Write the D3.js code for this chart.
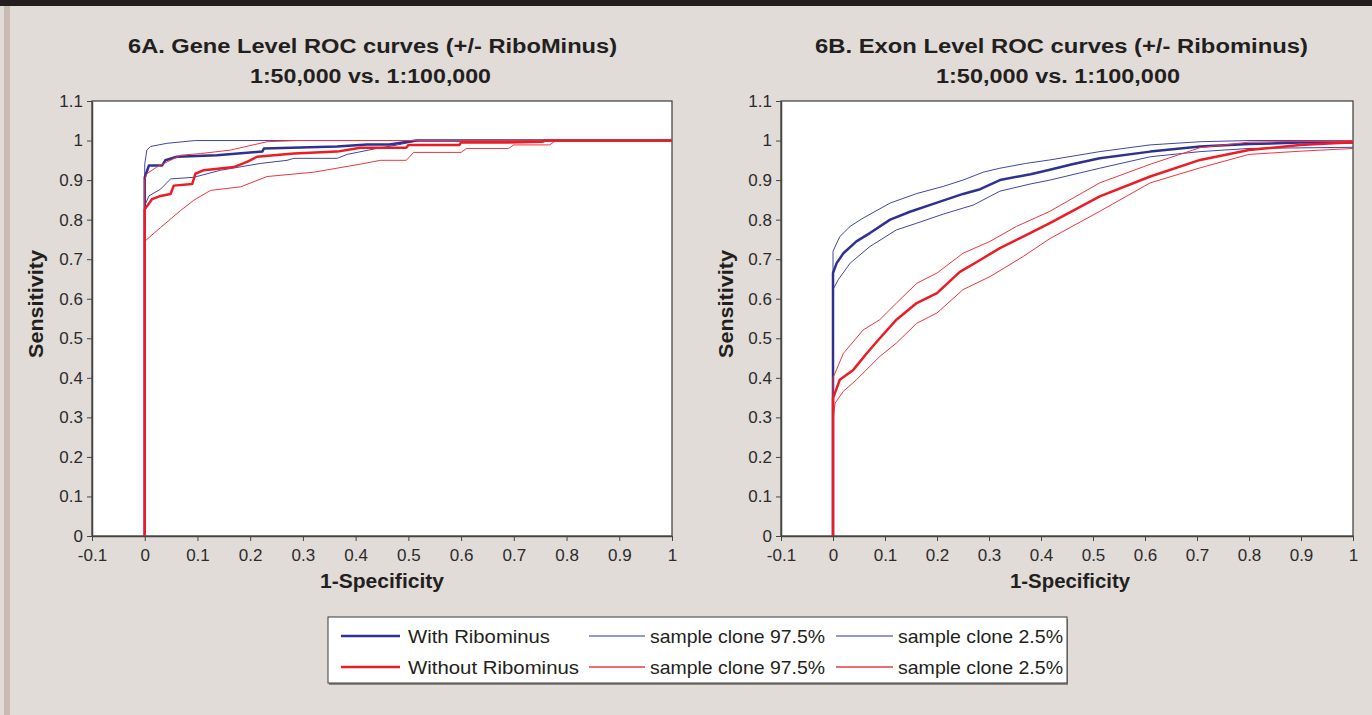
<!DOCTYPE html>
<html>
<head>
<meta charset="utf-8">
<script src="https://cdn.jsdelivr.net/npm/d3@7/dist/d3.min.js"></script>
<style>
  html, body { margin: 0; padding: 0; background: #e1dcd8; }
  svg { display: block; font-family: "Liberation Sans", Arial, sans-serif; }
</style>
</head>
<body>
<div id="chart"></div>
<script>
// tick values shared by both panels
var xTicks = [-0.1, 0, 0.1, 0.2, 0.3, 0.4, 0.5, 0.6, 0.7, 0.8, 0.9, 1];
var yTicks = [0, 0.1, 0.2, 0.3, 0.4, 0.5, 0.6, 0.7, 0.8, 0.9, 1, 1.1];

// 6A gene level curves, [1-specificity, sensitivity]
var geneBlueMain = [[0,0],[0,0.907],[0.008,0.937],[0.033,0.937],[0.039,0.95],[0.061,0.959],[0.137,0.963],[0.223,0.972],[0.226,0.98],[0.365,0.985],[0.422,0.99],[0.464,0.99],[0.515,1],[1,1]];
var geneBlueHi   = [[0,0],[0,0.94],[0.004,0.976],[0.011,0.985],[0.042,0.993],[0.096,1],[1,1]];
var geneBlueLo   = [[0,0],[0,0.835],[0.008,0.86],[0.03,0.877],[0.049,0.903],[0.093,0.907],[0.144,0.925],[0.219,0.942],[0.27,0.95],[0.283,0.955],[0.365,0.955],[0.384,0.965],[0.44,0.98],[0.48,0.989],[0.52,1],[1,1]];
var geneRedMain  = [[0,0],[0,0.826],[0.014,0.852],[0.03,0.86],[0.049,0.865],[0.055,0.886],[0.09,0.89],[0.096,0.916],[0.112,0.925],[0.169,0.933],[0.194,0.946],[0.213,0.959],[0.283,0.967],[0.365,0.972],[0.409,0.982],[0.496,0.982],[0.5,0.989],[0.597,0.989],[0.6,0.995],[0.682,0.995],[0.754,0.997],[0.76,1],[1,1]];
var geneRedHi    = [[0,0],[0,0.9],[0.004,0.916],[0.023,0.933],[0.068,0.963],[0.106,0.967],[0.163,0.976],[0.232,0.997],[0.289,1],[1,1]];
var geneRedLo    = [[0,0],[0,0.745],[0.004,0.75],[0.03,0.78],[0.068,0.823],[0.093,0.849],[0.125,0.874],[0.182,0.883],[0.232,0.909],[0.321,0.92],[0.416,0.942],[0.447,0.95],[0.496,0.95],[0.51,0.97],[0.6,0.97],[0.61,0.98],[0.69,0.98],[0.7,0.989],[0.768,0.989],[0.78,1],[1,1]];

// 6B exon level curves
var exonBlueMain = [[0,0],[0,0.665],[0.007,0.69],[0.02,0.715],[0.045,0.745],[0.071,0.766],[0.11,0.8],[0.148,0.82],[0.2,0.843],[0.25,0.865],[0.283,0.877],[0.321,0.9],[0.38,0.915],[0.417,0.926],[0.46,0.94],[0.513,0.955],[0.61,0.972],[0.706,0.985],[0.8,0.991],[0.898,0.995],[1,0.995]];
var exonBlueHi   = [[0,0],[0,0.72],[0.013,0.757],[0.033,0.783],[0.058,0.804],[0.11,0.842],[0.161,0.866],[0.212,0.884],[0.25,0.9],[0.289,0.92],[0.321,0.93],[0.37,0.942],[0.417,0.951],[0.513,0.972],[0.61,0.989],[0.706,0.997],[0.8,1],[1,1]];
var exonBlueLo   = [[0,0],[0,0.623],[0.01,0.648],[0.033,0.69],[0.071,0.732],[0.122,0.774],[0.161,0.791],[0.212,0.814],[0.27,0.837],[0.321,0.872],[0.379,0.89],[0.417,0.9],[0.513,0.93],[0.61,0.959],[0.706,0.972],[0.8,0.98],[1,0.983]];
var exonRedMain  = [[0,0],[0,0.35],[0.002,0.355],[0.013,0.395],[0.039,0.42],[0.065,0.462],[0.09,0.5],[0.122,0.547],[0.161,0.589],[0.2,0.614],[0.244,0.668],[0.283,0.698],[0.321,0.728],[0.379,0.766],[0.417,0.791],[0.513,0.859],[0.61,0.909],[0.706,0.951],[0.8,0.976],[0.898,0.989],[1,0.996]];
var exonRedHi    = [[0,0],[0,0.4],[0.004,0.412],[0.02,0.462],[0.058,0.521],[0.09,0.547],[0.122,0.589],[0.161,0.639],[0.2,0.665],[0.25,0.715],[0.302,0.745],[0.353,0.783],[0.417,0.821],[0.513,0.893],[0.61,0.94],[0.706,0.982],[0.8,0.996],[1,1]];
var exonRedLo    = [[0,0],[0,0.294],[0.004,0.336],[0.02,0.366],[0.045,0.395],[0.09,0.454],[0.122,0.488],[0.161,0.538],[0.2,0.564],[0.25,0.623],[0.302,0.656],[0.366,0.707],[0.417,0.752],[0.513,0.821],[0.61,0.893],[0.706,0.931],[0.8,0.965],[0.898,0.973],[1,0.98]];

var titlesA = ["6A. Gene Level ROC curves (+/- RiboMinus)", "1:50,000 vs. 1:100,000"];
var titlesB = ["6B. Exon Level ROC curves (+/- Ribominus)", "1:50,000 vs. 1:100,000"];
var legendLabels = ["With Ribominus", "sample clone 97.5%", "sample clone 2.5%",
                    "Without Ribominus", "sample clone 97.5%", "sample clone 2.5%"];

var w = 1372, h = 715;
var blueThick = "#2e3192", blueThin = "#3f46a3";
var redThick = "#ed1c24", redThin = "#f0353d";

var svg = d3.select("#chart").append("svg")
    .attr("width", w)
    .attr("height", h);

// background, top bar and left strip
svg.append("rect").attr("width", w).attr("height", h).attr("fill", "#e1dcd8");
svg.append("rect").attr("width", w).attr("height", 6).attr("fill", "#221e1f");
svg.append("rect").attr("x", 4).attr("y", 6).attr("width", 6).attr("height", h - 6).attr("fill", "#c9bab4");

// stretch a text to a measured width
function fit(sel, width) {
  sel.attr("textLength", width).attr("lengthAdjust", "spacingAndGlyphs");
}

var fmt = function(d) { return String(+d.toFixed(1)); };

function drawPanel(opts) {
  var x = d3.scaleLinear().domain([-0.1, 1]).range([opts.left, opts.right]);
  var y = d3.scaleLinear().domain([0, 1.1]).range([536, 101]);

  // plot area
  svg.append("rect")
      .attr("x", x(-0.1)).attr("y", y(1.1))
      .attr("width", x(1) - x(-0.1)).attr("height", y(0) - y(1.1))
      .attr("fill", "#fff")
      .attr("stroke", "#3a3a3a")
      .attr("stroke-width", 1.2);

  var line = d3.line()
      .x(function(d) { return x(d[0]); })
      .y(function(d) { return y(d[1]); });

  opts.series.forEach(function(s) {
    svg.append("path")
        .datum(s.data)
        .attr("fill", "none")
        .attr("stroke", s.color)
        .attr("stroke-width", s.width)
        .attr("stroke-linejoin", "round")
        .attr("d", line);
  });

  // axes
  var xAxis = svg.append("g")
      .attr("transform", "translate(0," + y(0) + ")")
      .call(d3.axisBottom(x).tickValues(xTicks).tickSize(5).tickSizeOuter(0).tickPadding(8).tickFormat(fmt));
  var yAxis = svg.append("g")
      .attr("transform", "translate(" + x(-0.1) + ",0)")
      .call(d3.axisLeft(y).tickValues(yTicks).tickSize(5).tickSizeOuter(0).tickPadding(4).tickFormat(fmt));

  [xAxis, yAxis].forEach(function(a) {
    a.attr("font-size", null);
    a.select(".domain").attr("stroke", "#444").attr("stroke-width", 1.5);
    a.selectAll(".tick line").attr("stroke", "#444");
    a.selectAll(".tick text")
        .attr("fill", "#2b2b2b")
        .attr("font-size", 17)
        .attr("font-family", "'Liberation Sans', Arial, sans-serif");
  });

  // titles
  svg.append("text")
      .attr("x", opts.t1x).attr("y", 53)
      .attr("text-anchor", "middle")
      .style("font-size", "20px").style("font-weight", "bold")
      .attr("fill", "#231f20")
      .text(opts.titles[0])
      .call(fit, opts.t1w);
  svg.append("text")
      .attr("x", opts.t2x).attr("y", 83)
      .attr("text-anchor", "middle")
      .style("font-size", "20px").style("font-weight", "bold")
      .attr("fill", "#231f20")
      .text(opts.titles[1])
      .call(fit, opts.t2w);

  // axis labels
  svg.append("text")
      .attr("x", opts.xlx).attr("y", 588)
      .attr("text-anchor", "middle")
      .style("font-size", "20px").style("font-weight", "bold")
      .attr("fill", "#231f20")
      .text("1-Specificity")
      .call(fit, opts.xlw);
  svg.append("text")
      .attr("transform", "translate(" + opts.ylx + ",304) rotate(-90)")
      .attr("text-anchor", "middle")
      .style("font-size", "20px").style("font-weight", "bold")
      .attr("fill", "#231f20")
      .text("Sensitivity")
      .call(fit, 108);
}

drawPanel({
  left: 92, right: 672,
  titles: titlesA, t1x: 372.5, t1w: 489, t2x: 370.5, t2w: 241,
  xlx: 382, xlw: 124, ylx: 43,
  series: [
    {data: geneBlueHi, color: blueThin, width: 1},
    {data: geneBlueLo, color: blueThin, width: 1},
    {data: geneBlueMain, color: blueThick, width: 2.5},
    {data: geneRedHi, color: redThin, width: 1},
    {data: geneRedLo, color: redThin, width: 1},
    {data: geneRedMain, color: redThick, width: 2.5}
  ]
});

drawPanel({
  left: 781, right: 1353,
  titles: titlesB, t1x: 1061.5, t1w: 493, t2x: 1058, t2w: 244,
  xlx: 1070, xlw: 120, ylx: 733,
  series: [
    {data: exonBlueHi, color: blueThin, width: 1},
    {data: exonBlueLo, color: blueThin, width: 1},
    {data: exonBlueMain, color: blueThick, width: 2.5},
    {data: exonRedHi, color: redThin, width: 1},
    {data: exonRedLo, color: redThin, width: 1},
    {data: exonRedMain, color: redThick, width: 2.5}
  ]
});

// legend
var legend = svg.append("g");
legend.append("rect")
    .attr("x", 329).attr("y", 619).attr("width", 739).attr("height", 66)
    .attr("fill", "#8a8684");
legend.append("rect")
    .attr("x", 328).attr("y", 617).attr("width", 739).attr("height", 66)
    .attr("fill", "#fff").attr("stroke", "#3a3a3a").attr("stroke-width", 1);

var legendStyles = [
  {color: blueThick, width: 2.5}, {color: "#959ace", width: 2}, {color: "#959ace", width: 2},
  {color: redThick, width: 2.5}, {color: "#ee3a43", width: 1.5}, {color: "#ee3a43", width: 1.5}
];
var colLine = [[341, 400], [589, 645], [836, 893]];
var colText = [408, 650, 898];
var textW = [142, 175, 165, 171, 175, 165];
var rowY = [636, 667];

legendLabels.forEach(function(label, i) {
  var col = i % 3, row = Math.floor(i / 3);
  legend.append("line")
      .attr("x1", colLine[col][0]).attr("x2", colLine[col][1])
      .attr("y1", rowY[row]).attr("y2", rowY[row])
      .attr("stroke", legendStyles[i].color)
      .attr("stroke-width", legendStyles[i].width);
  legend.append("text")
      .attr("x", colText[col]).attr("y", rowY[row] + 7)
      .style("font-size", "19px")
      .attr("fill", "#231f20")
      .text(label)
      .call(fit, textW[i]);
});
</script>
</body>
</html>
